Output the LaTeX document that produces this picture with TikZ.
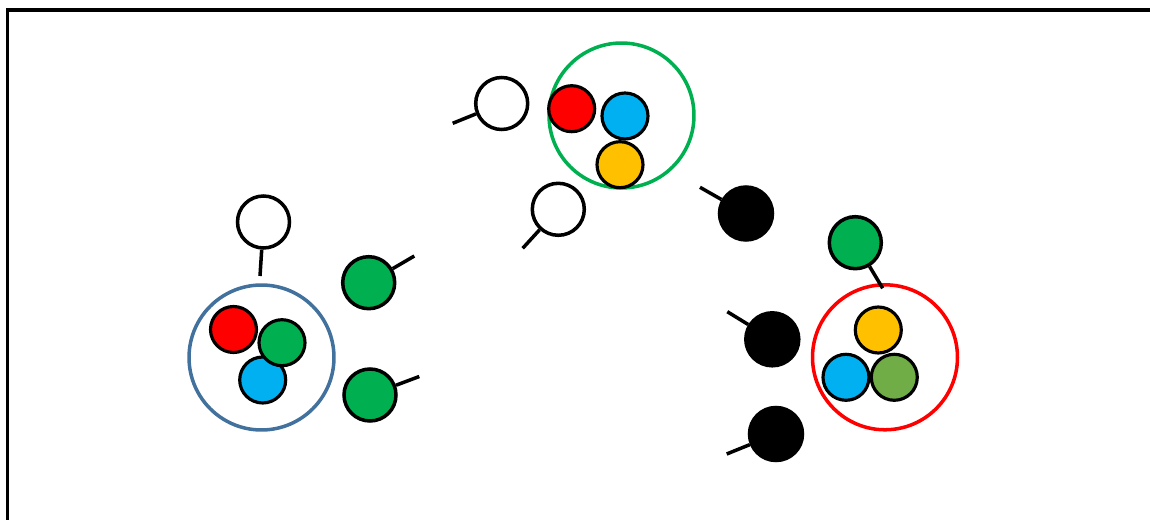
\documentclass[tikz,border=0pt]{standalone}
\definecolor{cred}{HTML}{FF0000}
\definecolor{cblue}{HTML}{00B0F0}
\definecolor{cgreen}{HTML}{00B050}
\definecolor{cyellow}{HTML}{FFC000}
\definecolor{clgreen}{HTML}{70AD47}
\definecolor{cring}{HTML}{41719C}
\begin{document}
\begin{tikzpicture}[x=0.02cm,y=-0.02cm,
  ball/.style={circle,draw=black,line width=1.8pt,inner sep=0pt,minimum size=0.92cm},
  bigball/.style={circle,draw=black,line width=2pt,inner sep=0pt,minimum size=1.04cm},
  blackball/.style={circle,draw=black,fill=black,line width=2pt,inner sep=0pt,minimum size=1.06cm},
  ring/.style={circle,line width=2pt,inner sep=0pt,minimum size=2.9cm},
  stick/.style={line width=2pt}]
\useasboundingbox (0,0) rectangle (1150,520);
\begin{scope}
\clip (0,0) rectangle (1150,520);
\draw[line width=2.1pt] (7.5,10) rectangle (1170,540);
\end{scope}
% left group
\node[ring,draw=cring] (ringL) at (261.5,357.5) {};
\node[ball,fill=cred] (lr) at (233.5,329.5) {};
\node[ball,fill=cblue] (lb) at (262.7,380) {};
\node[ball,fill=cgreen] (lg) at (282,342.7) {};
\node[bigball,fill=white] (wL) at (263.5,222) {};
\coordinate (wLe) at (260,276);
\draw[stick] (wL) -- (wLe);
\node[bigball,fill=cgreen] (g1) at (368.7,282.7) {};
\coordinate (g1e) at (414.3,256);
\draw[stick] (g1) -- (g1e);
\node[bigball,fill=cgreen] (g2) at (370,395) {};
\coordinate (g2e) at (419.3,376.5);
\draw[stick] (g2) -- (g2e);
% top group
\node[ring,draw=cgreen] (ringT) at (621.5,115.5) {};
\node[ball,fill=cred] (tr) at (571.7,108.7) {};
\node[ball,fill=cblue] (tb) at (625,116) {};
\node[ball,fill=cyellow] (ty) at (620,164.7) {};
\node[bigball,fill=white] (w1) at (501.7,103.5) {};
\coordinate (w1e) at (452.7,123.3);
\draw[stick] (w1) -- (w1e);
\node[bigball,fill=white] (w2) at (558.3,209.3) {};
\coordinate (w2e) at (522.7,248.3);
\draw[stick] (w2) -- (w2e);
% right group
\node[blackball] (k1) at (746,213.5) {};
\coordinate (k1e) at (700,187.3);
\draw[stick] (k1) -- (k1e);
\node[blackball] (k2) at (772.3,339.3) {};
\coordinate (k2e) at (727.3,311.7);
\draw[stick] (k2) -- (k2e);
\node[blackball] (k3) at (776,434) {};
\coordinate (k3e) at (726.7,454);
\draw[stick] (k3) -- (k3e);
\node[ring,draw=cred] (ringR) at (885,357.3) {};
\node[ball,fill=cyellow] (ry) at (878.3,330) {};
\node[ball,fill=cblue] (rb) at (846,377.3) {};
\node[ball,fill=clgreen] (rg) at (894.3,377.3) {};
\node[bigball,fill=cgreen] (gR) at (855.3,242.7) {};
\coordinate (gRe) at (882.7,288.3);
\draw[stick] (gR) -- (gRe);
\end{tikzpicture}
\end{document}
